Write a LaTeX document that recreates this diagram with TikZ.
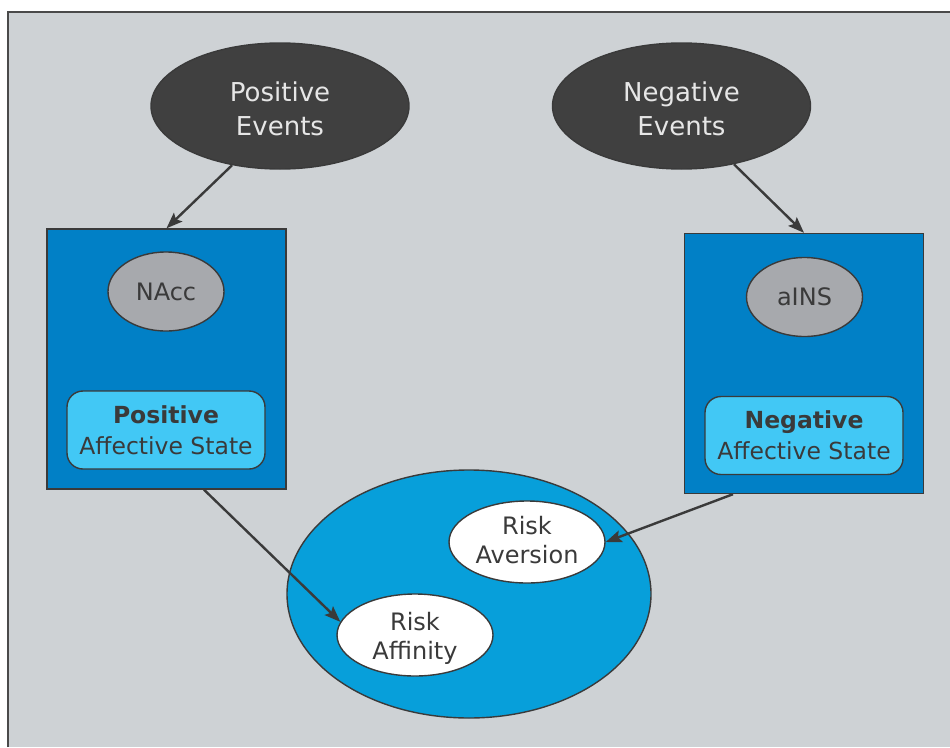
\documentclass[tikz,border=0pt]{standalone}
\usepackage{fontspec}
\setmainfont{DejaVu Sans}
\usetikzlibrary{shapes.geometric,arrows.meta}

\definecolor{bggray}{HTML}{CED2D5}
\definecolor{framegray}{HTML}{4A4A4A}
\definecolor{darkoval}{HTML}{404040}
\definecolor{ovaltext}{HTML}{E6E6E6}
\definecolor{regionblue}{HTML}{0180C6}
\definecolor{nodegray}{HTML}{A7A9AD}
\definecolor{statecyan}{HTML}{42C8F5}
\definecolor{riskblue}{HTML}{079FDA}
\definecolor{inkgray}{HTML}{3A3A3A}

\tikzset{
  outline/.style={draw=inkgray, line width=1.4pt},
  eventoval/.style={ellipse, outline, fill=darkoval,
    minimum width=258pt, minimum height=126pt, inner sep=0pt},
  eventtext/.style={text=ovaltext, align=center, inner sep=0pt,
    font=\fontsize{26}{34}\selectfont},
  region/.style={rectangle, outline, fill=regionblue, inner sep=0pt,
    minimum width=239pt, minimum height=260pt},
  areaoval/.style={ellipse, outline, fill=nodegray, text=inkgray, inner sep=0pt,
    minimum width=116pt, minimum height=79pt, font=\fontsize{24}{29}\selectfont},
  statebox/.style={rectangle, rounded corners=16pt, outline, fill=statecyan,
    text=inkgray, inner sep=0pt, minimum width=198pt, minimum height=78pt,
    align=center, font=\fontsize{23.5}{31}\selectfont},
  choiceoval/.style={ellipse, outline, fill=riskblue, inner sep=0pt,
    minimum width=364pt, minimum height=248pt},
  riskoval/.style={ellipse, outline, fill=white, inner sep=0pt,
    minimum width=156pt, minimum height=82pt},
  risktext/.style={text=inkgray, align=center, inner sep=0pt,
    font=\fontsize{24}{29}\selectfont},
  link/.style={draw=inkgray, line width=2.4pt,
    -{Stealth[length=16pt,width=12pt,inset=3pt]}}
}

\begin{document}
\begin{tikzpicture}[x=1pt, y=-1pt]
  \useasboundingbox (0,0) rectangle (950,747);

  % panel background with its top and left frame lines
  \fill[bggray] (8,12) rectangle (950,747);
  \draw[framegray, line width=1.6pt] (8,747) -- (8,12) -- (950,12);

  % event sources
  \node[eventoval] (pe) at (280,106) {};
  \node[eventoval] (ne) at (681.5,106) {};
  \node[eventtext] (petext) at (280,109) {Positive\\Events};
  \node[eventtext] (netext) at (681.5,109) {Negative\\Events};

  % brain regions with their affective states
  \node[region] (lbox) at (166.5,359) {};
  \node[region] (rbox) at (804,363.5) {};
  \node[areaoval] (nacc) at (166,291.5) {NAcc};
  \node[areaoval] (ains) at (804.5,297) {aINS};
  \node[statebox] (pstate) at (166,430) {\textbf{Positive}\\Affective State};
  \node[statebox] (nstate) at (804,435.5) {\textbf{Negative}\\Affective State};

  % risk attitudes
  \node[choiceoval] (choice) at (469,594) {};
  \node[riskoval] (rav) at (527,542) {};
  \node[riskoval] (raff) at (415,635) {};
  \node[risktext] (ravtext) at (527,540) {Risk\\Aversion};
  \node[risktext] (rafftext) at (415,638.5) {Risk\\Affinity};

  % connectors
  \draw[link] (pe.231) -- (lbox.north);
  \draw[link] (ne.-48) -- (rbox.north);
  \draw[link] ([xshift=37.5pt]lbox.south) -- (raff.170);
  \draw[link] ([xshift=-71pt]rbox.south) -- (rav.east);
\end{tikzpicture}
\end{document}
